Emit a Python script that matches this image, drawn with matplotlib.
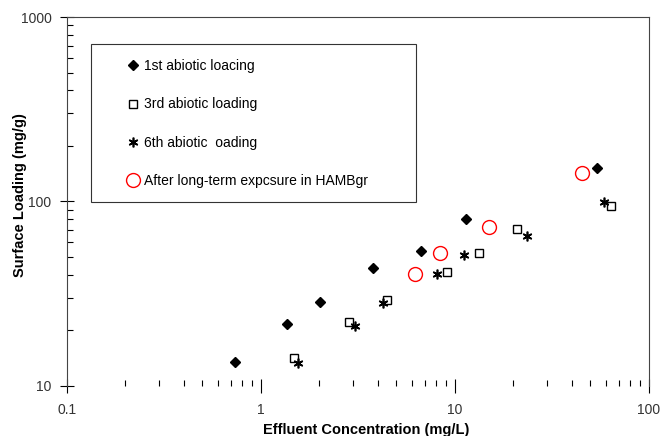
import matplotlib
matplotlib.use("Agg")
import matplotlib.pyplot as plt
from matplotlib.patches import Rectangle
from matplotlib.ticker import LogLocator, NullFormatter, FixedLocator, FixedFormatter

plt.rcParams['font.family'] = ['Liberation Sans', 'DejaVu Sans']

# 1st abiotic loading
x1 = [0.74, 1.36, 2.01, 3.78, 6.68, 11.4, 54]
y1 = [13.5, 21.7, 28.5, 43.6, 53.9, 80.4, 152]
# 3rd abiotic loading
x3 = [1.48, 2.84, 4.46, 9.1, 13.3, 20.9, 63.7]
y3 = [14.2, 22.2, 29.2, 41.5, 52.6, 71, 94.5]
# 6th abiotic loading
x6 = [1.55, 3.05, 4.26, 8.07, 11.1, 23.5, 58.6]
y6 = [13.3, 21.1, 28.2, 40.5, 51.3, 65, 99.4]
# after long-term exposure in HAMBgr
xh = [6.22, 8.37, 14.96, 45.2]
yh = [40.5, 52.6, 72.8, 142.7]

labels = ['1st abiotic loacing', '3rd abiotic loading', '6th abiotic  oading',
          'After long-term expcsure in HAMBgr']

fig = plt.figure(figsize=(6.62, 4.36), dpi=100)
ax = fig.add_axes([0.101, 0.1147, 0.879, 0.8463])

ax.plot(x1, y1, 'D', ms=5, color='black', ls='none', label=labels[0])
ax.plot(x3, y3, 's', ms=6, mfc='white', mec='black', mew=1, ls='none', label=labels[1])
ax.plot(x6, y6, marker=(6, 2, 0), ms=7, color='black', mew=1.2, ls='none', label=labels[2])
ax.plot(xh, yh, 'o', ms=10, mfc='none', mec='red', mew=1, ls='none', label=labels[3])

ax.set_xscale('log')
ax.set_yscale('log')
ax.set_xlim(0.1, 100)
ax.set_ylim(10, 1000)

ax.xaxis.set_major_locator(FixedLocator([0.1, 1, 10, 100]))
ax.xaxis.set_major_formatter(FixedFormatter(['0.1', '1', '10', '100']))
ax.yaxis.set_major_locator(FixedLocator([10, 100, 1000]))
ax.yaxis.set_major_formatter(FixedFormatter(['10', '100', '1000']))
ax.xaxis.set_minor_locator(LogLocator(base=10, subs=range(2, 10)))
ax.yaxis.set_minor_locator(LogLocator(base=10, subs=range(2, 10)))
ax.xaxis.set_minor_formatter(NullFormatter())
ax.yaxis.set_minor_formatter(NullFormatter())

ax.tick_params(which='major', direction='inout', length=10, width=0.8, labelsize=10,
               labelcolor='#333333', pad=6)
ax.tick_params(which='minor', direction='in', length=4, width=0.8)
ax.tick_params(axis='x', which='major', pad=7)

ax.spines['bottom'].set_visible(False)
for s in ['top', 'left', 'right']:
    ax.spines[s].set_linewidth(0.8)
    ax.spines[s].set_color('#444444')

ax.set_xlabel('Effluent Concentration (mg/L)', fontsize=10.5, fontweight='bold')
ax.set_ylabel('Surface Loading (mg/g)', fontsize=10.5, fontweight='bold')
ax.xaxis.set_label_coords(0.514, -0.1)
ax.yaxis.set_label_coords(-0.069, 0.518)

# legend box
ax.add_patch(Rectangle((0.041, 0.499), 0.559, 0.428, transform=ax.transAxes,
                       fill=False, edgecolor='#333333', linewidth=0.8, zorder=3))
ax.legend(loc='upper left', bbox_to_anchor=(0.101, 0.886), frameon=False,
          borderpad=0, borderaxespad=0, handlelength=1.0, handletextpad=0.3,
          labelspacing=1.75, fontsize=10)

fig.savefig('out.png', dpi=100)
